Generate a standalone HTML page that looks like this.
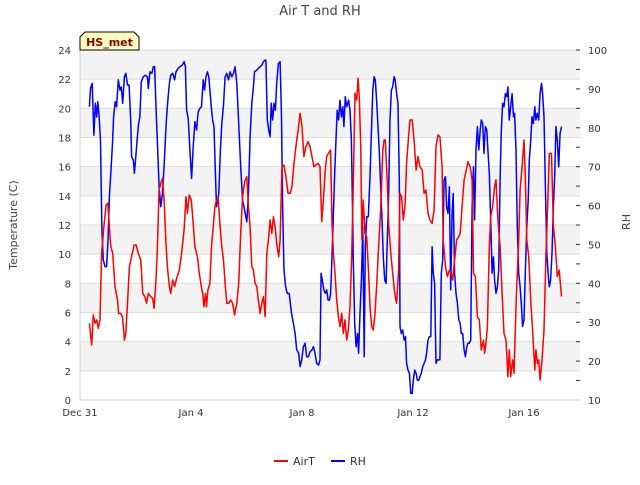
<!DOCTYPE html>
<html><head><meta charset="utf-8"><style>
body{margin:0;background:#fff;font-family:"Liberation Sans",sans-serif}
svg text{font-family:"DejaVu Sans","Liberation Sans",sans-serif}
</style></head><body>
<svg id="chart" width="640" height="480" viewBox="0 0 640 480">
<text x="320" y="15" text-anchor="middle" font-size="13" fill="#444">Air T and RH</text>
<g id="bands"></g>
<g id="axes"></g>
<g id="series"></g>
<g>
<polygon points="80,50 80,37 85,32 134,32 139,37 139,50" fill="#ffffc0" stroke="#000" stroke-width="1"/>
<text x="109.5" y="46" text-anchor="middle" font-size="11" font-weight="bold" fill="#8b0000">HS_met</text>
</g>
<text transform="translate(17,225) rotate(-90)" text-anchor="middle" font-size="11" fill="#444">Temperature (C)</text>
<text transform="translate(630,222) rotate(-90)" text-anchor="middle" font-size="11" fill="#444">RH</text>
<g>
<g><line x1="274" y1="461" x2="288" y2="461" stroke="#f00" stroke-width="2"/><text x="293" y="465" font-size="11" fill="#333">AirT</text></g>
<g><line x1="331" y1="461" x2="345" y2="461" stroke="#00f" stroke-width="2"/><text x="350" y="465" font-size="11" fill="#333">RH</text></g>
</g>
</svg>
<script>
const xTickLabels=["Dec 31","Jan 4","Jan 8","Jan 12","Jan 16"];
const xTickDays=[0,4,8,12,16];
const yTicks=[0,2,4,6,8,10,12,14,16,18,20,22,24];
const y2Ticks=[10,20,30,40,50,60,70,80,90,100];
const airtDays=[0.34,0.42,0.48,0.54,0.60,0.66,0.72,0.78,0.86,0.94,1.00,1.06,1.11,1.18,1.26,1.35,1.39,1.47,1.53,1.60,1.65,1.71,1.78,1.86,1.95,2.02,2.10,2.19,2.26,2.34,2.40,2.46,2.55,2.62,2.67,2.74,2.79,2.85,2.91,2.97,3.03,3.10,3.15,3.22,3.27,3.34,3.41,3.48,3.58,3.66,3.75,3.82,3.87,3.94,4.01,4.08,4.14,4.23,4.30,4.37,4.42,4.47,4.52,4.56,4.61,4.68,4.74,4.80,4.86,4.92,4.98,5.05,5.11,5.17,5.23,5.29,5.36,5.43,5.50,5.57,5.65,5.72,5.79,5.86,5.93,6.01,6.07,6.13,6.19,6.25,6.31,6.37,6.44,6.49,6.55,6.61,6.67,6.73,6.79,6.85,6.91,6.97,7.03,7.09,7.16,7.21,7.28,7.35,7.42,7.50,7.57,7.64,7.71,7.78,7.86,7.93,8.00,8.07,8.14,8.22,8.29,8.36,8.43,8.50,8.58,
8.65,8.71,8.77,8.83,8.89,8.95,9.03,9.08,9.13,9.19,9.25,9.31,9.37,9.43,9.49,9.55,9.61,9.67,9.73,9.79,9.85,9.91,9.97,10.02,10.07,10.12,10.16,10.21,10.27,10.33,10.40,10.45,10.51,10.57,10.63,10.69,10.76,10.84,10.91,10.96,11.00,11.08,11.12,11.20,11.27,11.34,11.41,11.48,11.53,11.59,11.65,11.71,11.77,11.83,11.89,11.97,12.04,12.11,12.18,12.25,12.33,12.40,12.47,12.54,12.61,12.69,12.76,12.83,12.90,12.97,13.05,13.09,13.17,13.24,13.31,13.38,13.43,13.50,13.57,13.65,13.70,13.77,13.84,13.91,13.98,14.06,14.13,14.18,14.25,14.32,14.39,14.46,14.54,14.58,14.63,14.68,14.75,14.80,14.87,14.94,14.99,15.06,15.14,15.21,15.28,15.35,15.42,15.47,15.52,15.59,15.64,15.72,15.81,15.86,15.93,16.00,16.05,16.10,16.17,16.24,16.31,16.39,16.43,16.48,16.53,16.58,16.65,16.72,16.79,16.87,16.91,16.99,17.06,17.13,17.20,17.27,17.35];
const airtValues=[5.26,3.77,5.83,5.26,5.49,4.91,5.49,10.06,11.89,13.37,13.49,11.89,10.51,10.06,7.77,6.86,5.94,5.94,5.71,4.11,4.57,6.63,9.14,9.83,10.63,10.63,10.06,9.6,7.31,7.09,6.63,7.31,7.09,6.97,6.29,8.23,10.51,14.4,14.86,15.2,13.71,10.74,9.14,7.77,7.31,8.23,7.77,8.34,8.91,10.06,11.66,13.94,12.8,14.06,13.71,12.11,10.51,9.83,8.69,7.77,7.31,6.4,7.31,6.4,7.54,8.0,10.51,11.89,13.26,13.71,13.83,11.89,10.51,9.6,8.0,6.63,6.63,6.86,6.63,5.83,6.63,8.0,11.43,13.94,14.97,15.31,13.26,11.89,9.14,8.91,8.0,7.77,6.63,5.94,6.63,7.09,5.71,10.06,10.97,12.34,11.43,12.57,11.89,10.74,9.83,10.97,16.0,16.11,15.31,14.17,14.17,14.63,16.23,17.37,18.51,19.66,18.74,16.69,17.37,17.71,17.37,16.69,16.0,16.11,16.23,
16.0,12.23,13.71,15.54,16.69,16.91,17.14,12.11,10.06,8.69,6.86,5.71,5.03,5.94,4.57,5.49,4.11,4.8,6.4,9.83,14.86,21.03,20.57,22.06,20.57,17.14,10.97,13.71,11.43,11.2,8.69,6.4,5.03,4.8,5.94,7.77,10.51,13.26,17.14,17.83,17.83,14.63,12.11,10.06,8.69,7.31,6.63,8.91,14.17,13.94,12.34,13.26,16.23,17.83,19.2,19.2,17.83,15.77,16.69,16.0,15.77,14.17,14.4,12.8,12.34,12.11,13.03,17.37,18.17,18.06,16.0,10.97,9.14,8.46,8.91,8.69,8.23,9.6,10.97,11.2,11.43,13.26,15.09,15.66,16.34,16.0,15.09,8.69,8.46,5.71,5.49,3.43,4.11,3.2,3.89,5.03,10.51,12.57,13.26,14.63,15.09,12.34,10.51,7.31,4.57,4.11,1.6,3.43,1.6,2.74,1.83,6.86,10.97,14.4,16.0,17.83,15.09,10.97,9.83,6.86,4.8,2.06,3.43,2.51,2.74,1.37,2.74,4.8,9.83,14.17,16.91,16.91,11.89,10.51,8.46,8.91,7.09];
const rhDays=[0.34,0.38,0.44,0.50,0.55,0.60,0.64,0.68,0.74,0.79,0.84,0.90,0.96,1.01,1.06,1.11,1.17,1.21,1.27,1.32,1.38,1.44,1.49,1.54,1.60,1.65,1.71,1.77,1.83,1.86,1.92,1.96,2.01,2.07,2.11,2.16,2.21,2.28,2.35,2.43,2.46,2.52,2.59,2.64,2.69,2.74,2.80,2.85,2.91,2.97,3.03,3.08,3.12,3.17,3.22,3.27,3.34,3.41,3.46,3.54,3.60,3.68,3.75,3.80,3.84,3.90,3.96,4.02,4.08,4.14,4.20,4.26,4.32,4.38,4.44,4.49,4.54,4.59,4.64,4.68,4.73,4.78,4.83,4.88,4.92,5.00,5.06,5.11,5.17,5.23,5.29,5.35,5.41,5.47,5.53,5.59,5.65,5.72,5.79,5.86,5.93,6.01,6.07,6.13,6.19,6.25,6.29,6.37,6.43,6.49,6.55,6.61,6.67,6.70,6.75,6.80,6.85,6.89,6.94,6.99,7.04,7.09,7.15,7.21,7.26,7.30,7.35,7.41,7.47,7.54,7.62,7.69,7.75,7.81,7.88,7.93,7.99,8.05,8.11,8.17,8.23,8.29,8.36,8.41,8.47,8.53,8.60,
8.65,8.69,8.75,8.79,8.84,8.89,8.94,8.99,9.03,9.08,9.13,9.18,9.23,9.27,9.32,9.37,9.42,9.47,9.51,9.56,9.61,9.68,9.73,9.78,9.83,9.85,9.90,9.95,10.00,10.04,10.09,10.14,10.19,10.24,10.28,10.33,10.39,10.45,10.51,10.55,10.60,10.64,10.69,10.74,10.79,10.84,10.88,10.93,10.98,11.03,11.08,11.12,11.17,11.22,11.27,11.32,11.36,11.41,11.46,11.51,11.53,11.58,11.63,11.68,11.73,11.77,11.82,11.87,11.92,11.97,12.01,12.06,12.11,12.16,12.21,12.25,12.30,12.35,12.40,12.45,12.49,12.54,12.59,12.64,12.69,12.73,12.78,12.83,12.88,12.93,12.97,13.02,13.07,13.12,13.17,13.21,13.26,13.31,13.36,13.41,13.45,13.50,13.55,13.60,13.65,13.70,13.74,13.79,13.84,13.89,13.94,13.98,14.03,14.08,14.13,14.18,14.22,14.27,14.32,14.37,14.42,14.46,14.51,14.56,14.61,14.66,14.70,14.75,14.80,14.85,14.90,14.94,14.99,15.04,15.09,15.14,15.18,15.23,15.28,15.33,15.38,15.42,15.47,15.52,15.57,15.62,15.66,15.71,15.76,15.81,15.86,15.91,15.95,16.00,16.05,16.10,16.15,16.19,16.24,16.29,16.34,16.39,16.43,16.48,16.53,16.58,16.63,16.67,16.72,16.77,16.82,16.87,16.91,16.96,17.01,17.06,17.11,17.15,17.20,17.25,17.30,17.35];
const rhValues=[85.4,90.1,91.4,78.1,86.3,82.8,86.7,83.7,76.8,53.7,46.0,44.3,44.3,51.1,62.3,68.3,76.0,82.8,86.7,85.4,92.3,89.7,90.5,86.3,93.1,94.0,91.0,91.0,81.1,72.6,71.7,68.3,72.6,77.7,81.1,82.8,91.8,93.1,93.5,93.1,90.1,94.4,94.0,95.7,95.7,85.4,74.3,64.8,59.7,63.1,70.0,77.7,82.8,87.5,91.4,93.5,94.0,92.3,94.4,95.3,95.7,96.1,97.0,95.7,84.5,82.4,74.3,67.0,75.1,81.6,79.4,84.1,85.0,85.4,92.3,89.7,93.1,94.4,93.1,89.7,85.4,82.0,80.3,68.3,59.7,63.1,74.3,81.1,85.8,93.1,94.0,92.3,94.4,93.1,94.0,95.7,91.4,81.1,70.0,61.4,58.8,55.8,63.1,77.7,86.3,90.5,94.4,94.8,95.3,95.7,96.1,97.0,97.4,97.4,82.0,79.4,77.7,86.3,82.0,86.3,84.5,91.4,96.5,97.0,82.8,59.7,43.4,39.1,37.4,37.4,32.3,29.7,27.1,22.9,22.0,18.6,20.3,23.7,24.6,21.1,21.1,22.4,22.9,23.7,22.0,19.4,19.0,
20.3,42.6,40.0,38.3,37.4,38.3,35.7,35.7,37.4,46.8,58.0,68.3,77.7,84.5,82.0,87.1,82.8,85.4,80.3,88.0,85.4,87.1,84.5,76.8,54.6,46.0,29.7,23.7,27.1,22.0,32.3,40.8,54.6,21.1,49.4,57.1,57.1,67.4,81.1,89.7,93.1,92.3,87.1,80.3,73.4,64.0,57.1,46.8,40.8,40.0,52.8,62.3,82.0,89.7,90.5,93.1,92.3,88.8,86.3,64.8,28.9,27.1,28.0,25.4,26.3,19.4,17.7,16.9,11.7,11.7,15.1,17.7,16.9,15.1,15.1,16.0,16.9,18.6,19.4,20.3,22.0,25.4,26.3,26.3,49.4,42.6,40.0,19.4,20.3,20.3,20.3,42.6,46.0,66.6,67.4,59.7,58.0,64.8,38.3,58.0,63.1,42.6,37.4,34.9,30.6,29.7,27.1,27.1,22.9,21.1,23.7,24.6,24.6,25.4,59.7,70.0,56.3,74.3,80.3,74.3,79.4,82.0,81.1,73.4,80.3,79.4,74.3,68.3,56.3,42.6,46.8,40.8,37.4,39.1,43.4,66.6,78.6,86.3,85.4,88.8,88.0,90.5,82.0,85.4,88.8,82.8,83.7,74.3,54.6,42.6,39.1,34.0,28.9,30.6,43.4,54.6,61.4,71.7,76.8,82.8,81.1,85.4,82.0,83.7,82.0,88.8,91.4,88.8,82.8,64.8,47.7,42.6,39.1,40.8,47.7,59.7,68.3,80.3,76.8,70.0,78.6,80.3];

const NS='http://www.w3.org/2000/svg';
const L=80,R=580,T=50,B=400;
const xS=d=>L+d*27.75;
const yS=v=>B-(v/24)*(B-T);
const y2S=v=>B-((v-10)/90)*(B-T);
function mk(tag,attrs,parent){const e=document.createElementNS(NS,tag);for(const k in attrs)e.setAttribute(k,attrs[k]);parent.appendChild(e);return e;}
const bands=document.getElementById('bands'),axes=document.getElementById('axes'),series=document.getElementById('series');
for(let i=0;i<yTicks.length-1;i++){
  if(i%2===1){const r=mk('rect',{x:L,y:yS(yTicks[i+1]),width:R-L,height:yS(yTicks[i])-yS(yTicks[i+1]),fill:'#f3f3f3'},bands);
  
  }
}
yTicks.forEach(v=>{
  const g=mk('line',{x1:L,x2:R,y1:yS(v),y2:yS(v),stroke:'#dcdcdc','stroke-width':1},bands);
  
  
  const t=mk('text',{x:L-9,y:yS(v)+4,'text-anchor':'end','font-size':10,fill:'#333'},axes);
  t.textContent=v;
  
  
});
y2Ticks.forEach(v=>{
  const t=mk('text',{x:R+8,y:y2S(v)+4,'text-anchor':'start','font-size':10,fill:'#333'},axes);
  t.textContent=v;
  
  
});
for(let v=10;v<=100;v+=5){
  const k=mk('line',{x1:R-4,x2:R,y1:y2S(v),y2:y2S(v),stroke:'#333','stroke-width':1},axes);
  
  
}
xTickDays.forEach((d,i)=>{
  const t=mk('text',{x:xS(d),y:416,'text-anchor':'middle','font-size':10,fill:'#333'},axes);
  t.textContent=xTickLabels[i];
  
  
});
const ax=mk('path',{d:`M${L},${T} V${B} H${R}`,fill:'none',stroke:'#ccc','stroke-width':1},axes);


function line(days,vals,sc,color,name){
  const d=days.map((t,i)=>(i?'L':'M')+xS(t).toFixed(1)+','+sc(vals[i]).toFixed(1)).join(' ');
  const p=mk('path',{d:d,fill:'none',stroke:color,'stroke-width':1.5,'stroke-linejoin':'round'},series);
  
  
}
line(rhDays,rhValues,y2S,'#0000ff','rh-line');
line(airtDays,airtValues,yS,'#ff0000','airt-line');
</script>
</body></html>
